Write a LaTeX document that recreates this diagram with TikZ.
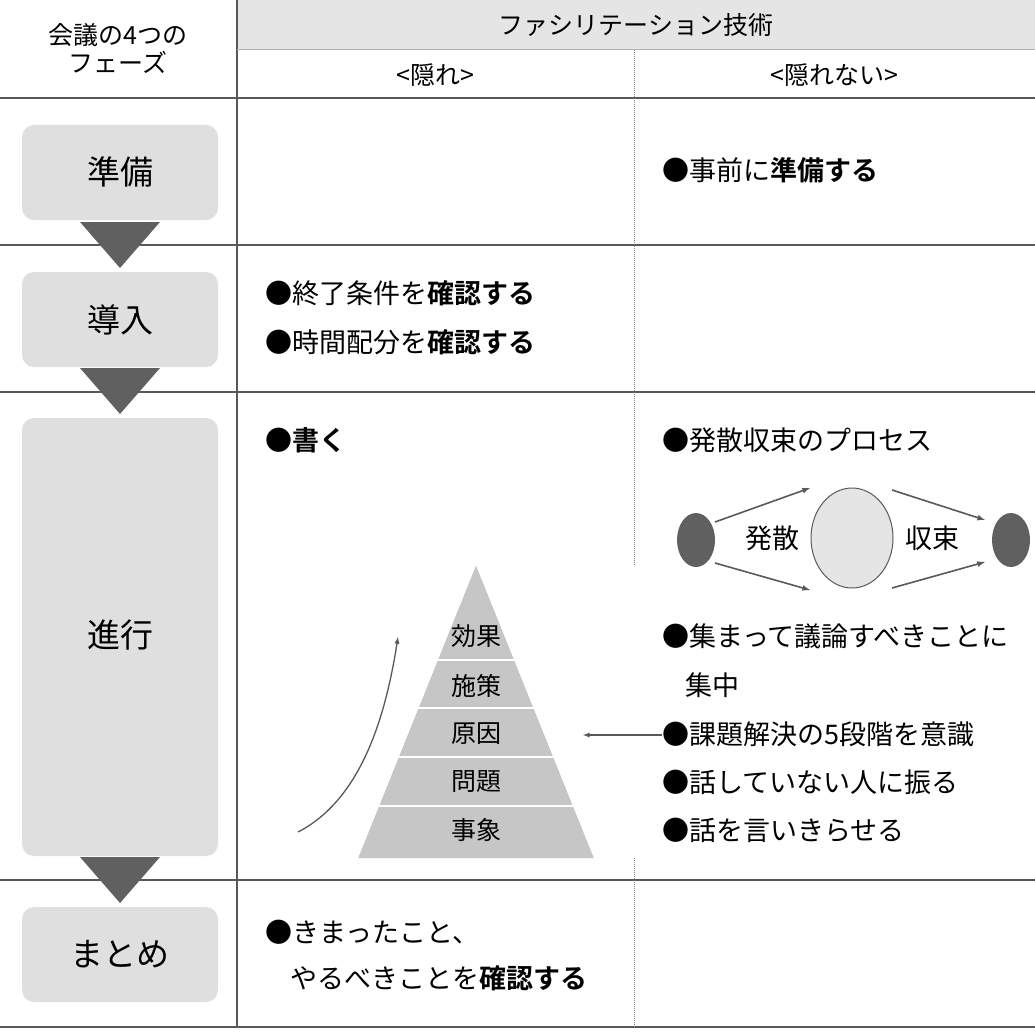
\documentclass[tikz,border=0pt]{standalone}
\usepackage{fontspec}
\setmainfont{Noto Sans CJK JP}[BoldFont={Noto Sans CJK JP Bold}]
\begin{document}
\begin{tikzpicture}[x=1pt,y=-1pt,
  phase/.style={fill=gray!25,rounded corners=12pt},
  tri/.style={fill=gray!75!black},
  txt/.style={anchor=west,font=\fontsize{27}{30}\selectfont,inner sep=0},
  ptxt/.style={font=\fontsize{33}{36}\selectfont},
  htxt/.style={font=\fontsize{25}{28}\selectfont},
  dark/.style={fill=gray!75!black},
  arr/.style={-latex,gray!70!black,line width=1.6pt},
  line/.style={gray!70!black,line width=1.5pt}]
\useasboundingbox (0,0) rectangle (1035,1035);
\fill[gray!20] (237,0) rectangle (1035,50);
\draw[line] (0,98)--(1035,98) (0,245)--(1035,245) (0,392)--(1035,392) (0,880)--(1035,880) (0,1027)--(1035,1027);
\draw[line] (237,0)--(237,1027);
\draw[gray,densely dotted,line width=1pt] (634,50)--(634,1027);
\draw[gray!60,line width=1pt] (237,50)--(1035,50);
\node[htxt,align=center] (h0) at (118,49) {会議の4つの\\フェーズ};
\node[htxt] (h1) at (636,25) {ファシリテーション技術};
\node[htxt] (h2) at (435,75) {<隠れ>};
\node[htxt] (h3) at (834,75) {<隠れない>};
\foreach \a/\b in {125/220,272/367,418/856,907/1002}{\fill[phase] (22,\a) rectangle (218,\b);}
\node[ptxt] (pa) at (120,172) {準備};
\node[ptxt] (pb) at (120,320) {導入};
\node[ptxt] (pc) at (120,635) {進行};
\node[ptxt] (pd) at (120,954) {まとめ};
\foreach \y in {222,368,857}{\fill[tri] (80,\y)--(160,\y)--(120,\y+46)--cycle;}
\node[txt] (t1) at (662,170) {●事前に\textbf{準備する}};
\node[txt] (t2) at (265,293) {●終了条件を\textbf{確認する}};
\node[txt] (t3) at (265,342) {●時間配分を\textbf{確認する}};
\node[txt] (t4) at (265,440) {●\textbf{書く}};
\node[txt] (t5) at (662,440) {●発散収束のプロセス};
\fill[dark] (696,540) ellipse (19 and 27);
\fill[dark] (1011,540) ellipse (19 and 27);
\fill[gray!20,draw=gray!70!black,line width=1pt] (852,538) ellipse (41 and 50);
\coordinate (a1) at (715,522); \coordinate (a2) at (810,488);
\coordinate (a3) at (715,563); \coordinate (a4) at (810,590);
\coordinate (a5) at (892,490); \coordinate (a6) at (985,520);
\coordinate (a7) at (892,588); \coordinate (a8) at (985,562);
\draw[arr] (a1)--(a2); \draw[arr] (a3)--(a4); \draw[arr] (a5)--(a6); \draw[arr] (a7)--(a8);
\node[font=\fontsize{27}{30}\selectfont] (l1) at (772,538) {発散};
\node[font=\fontsize{27}{30}\selectfont] (l2) at (932,538) {収束};
\fill[gray!45] (476,565)--(594,858)--(358,858)--cycle;
\foreach \y in {660,708,757,806}{\draw[white,line width=2.5pt] (300,\y)--(650,\y);}
\fill[white] (300,565) -- (476,565) -- (358,858) -- (300,858) -- cycle;
\fill[white] (476,565) -- (650,565) -- (650,858) -- (594,858) -- cycle;
\foreach \y/\t in {636/効果,686/施策,734/原因,782/問題,830/事象}{\node[font=\fontsize{25}{28}\selectfont] at (476,\y) {\t};}
\coordinate (c1) at (298,832); \coordinate (c2) at (398,637);
\draw[arr,line width=1.3pt] (c1) .. controls (360,800) and (385,720) .. (c2);
\coordinate (b1) at (662,735); \coordinate (b2) at (583,735);
\draw[arr,line width=1.3pt] (b1)--(b2);
\node[txt] (u1) at (662,636) {●集まって議論すべきことに};
\node[txt] (u2) at (685,685) {集中};
\node[txt] (u3) at (662,734) {●課題解決の5段階を意識};
\node[txt] (u4) at (662,782) {●話していない人に振る};
\node[txt] (u5) at (662,830) {●話を言いきらせる};
\node[txt] (v1) at (265,932) {●きまったこと、};
\node[txt] (v2) at (290,978) {やるべきことを\textbf{確認する}};
\end{tikzpicture}
\end{document}
